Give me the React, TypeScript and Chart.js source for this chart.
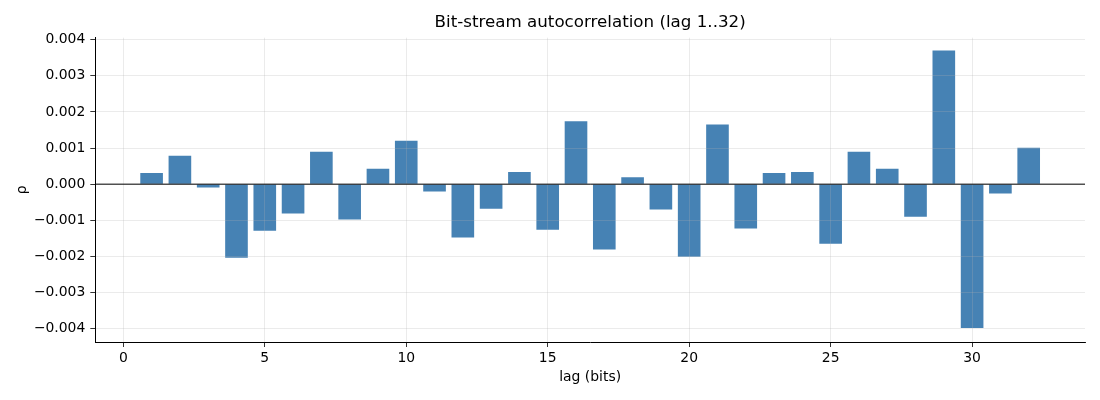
import React, { useEffect, useRef } from 'react';
import { Chart, registerables, Plugin } from 'chart.js';

Chart.register(...registerables);

// lag 1..32 and the measured autocorrelation
const lags = [
  1, 2, 3, 4, 5, 6, 7, 8, 9, 10, 11, 12, 13, 14, 15, 16,
  17, 18, 19, 20, 21, 22, 23, 24, 25, 26, 27, 28, 29, 30, 31, 32,
];
const rho = [
  0.00031, 0.00079, -0.00009, -0.00204, -0.00129, -0.00081, 0.0009, -0.00098,
  0.00043, 0.0012, -0.0002, -0.00148, -0.00068, 0.00034, -0.00126, 0.00174,
  -0.00181, 0.00019, -0.0007, -0.00201, 0.00165, -0.00123, 0.00031, 0.00034,
  -0.00165, 0.0009, 0.00043, -0.0009, 0.0037, -0.00398, -0.00026, 0.00101,
];
const xTicks = [0, 5, 10, 15, 20, 25, 30];
const yTicks = [-0.004, -0.003, -0.002, -0.001, 0, 0.001, 0.002, 0.003, 0.004];
const titleText = 'Bit-stream autocorrelation (lag 1..32)';

const FONT = 'DejaVu Sans';
const GRID = 'rgba(176,176,176,0.32)';

const fmtY = (v: number) => (v < 0 ? '\u2212' : '') + Math.abs(v).toFixed(3);

// black horizontal line at rho = 0 on top of the bars, and the title centred over the plot area
const overlay: Plugin = {
  id: 'overlay',
  afterDraw(chart) {
    const { ctx, chartArea, scales } = chart;
    const y = scales.y.getPixelForValue(0);
    ctx.save();
    ctx.strokeStyle = '#000';
    ctx.lineWidth = 1;
    ctx.beginPath();
    ctx.moveTo(chartArea.left, y);
    ctx.lineTo(chartArea.right, y);
    ctx.stroke();

    ctx.fillStyle = '#000';
    ctx.font = `16.7px "${FONT}"`;
    ctx.textAlign = 'center';
    ctx.textBaseline = 'middle';
    ctx.fillText(titleText, (chartArea.left + chartArea.right) / 2, 23);
    ctx.restore();
  },
};

const gridOpts = {
  color: GRID,
  lineWidth: 0.8,
  z: 1,
  offset: false,
  drawTicks: true,
  tickLength: 5,
  tickColor: '#000',
  tickWidth: 0.8,
};

const App: React.FC = () => {
  const canvasRef = useRef<HTMLCanvasElement | null>(null);
  const chartRef = useRef<Chart | null>(null);

  useEffect(() => {
    if (!canvasRef.current) return;
    if (chartRef.current) chartRef.current.destroy();

    chartRef.current = new Chart(canvasRef.current, {
      type: 'bar',
      data: {
        datasets: [
          {
            data: lags.map((l, i) => ({ x: l, y: rho[i] })),
            backgroundColor: '#4682B4',
            borderWidth: 0,
            barPercentage: 1,
            categoryPercentage: 0.8,
          },
        ],
      },
      options: {
        responsive: false,
        animation: false,
        layout: { padding: { left: 0, right: 15, top: 37.7, bottom: 0 } },
        plugins: {
          legend: { display: false },
          tooltip: { enabled: false },
          title: { display: false },
        },
        scales: {
          x: {
            type: 'linear',
            min: -0.99,
            max: 33.99,
            offset: false,
            afterFit: (s: any) => {
              s.height = 58;
            },
            afterBuildTicks: (s: any) => {
              s.ticks = xTicks.map((v) => ({ value: v }));
            },
            grid: gridOpts,
            border: { display: true, color: '#000', width: 1, z: 1 },
            ticks: {
              color: '#000',
              font: { family: FONT, size: 13.9 },
              padding: 3,
              maxRotation: 0,
              minRotation: 0,
              autoSkip: false,
            },
            title: {
              display: true,
              text: 'lag (bits)',
              color: '#000',
              font: { family: FONT, size: 13.9 },
              padding: { top: 0, bottom: 14.7 },
            },
          },
          y: {
            type: 'linear',
            min: -0.00437,
            max: 0.004055,
            afterFit: (s: any) => {
              s.width = 95.3;
            },
            afterBuildTicks: (s: any) => {
              s.ticks = yTicks.map((v) => ({ value: v }));
            },
            grid: gridOpts,
            border: { display: true, color: '#000', width: 1, z: 1 },
            ticks: {
              color: '#000',
              font: { family: FONT, size: 13.9 },
              padding: 5,
              autoSkip: false,
              callback: (v: any) => fmtY(Number(v)),
            },
            title: {
              display: true,
              text: 'ρ',
              color: '#000',
              font: { family: FONT, size: 13.9 },
              padding: { top: 14, bottom: 0 },
            },
          },
        },
      },
      plugins: [overlay],
    });

    return () => {
      if (chartRef.current) {
        chartRef.current.destroy();
        chartRef.current = null;
      }
    };
  }, []);

  return (
    <div style={{ position: 'fixed', left: 0, top: 0, width: 1100, height: 400, background: '#fff' }}>
      <canvas ref={canvasRef} width={1100} height={400} style={{ width: 1100, height: 400 }} />
    </div>
  );
};

export default App;
